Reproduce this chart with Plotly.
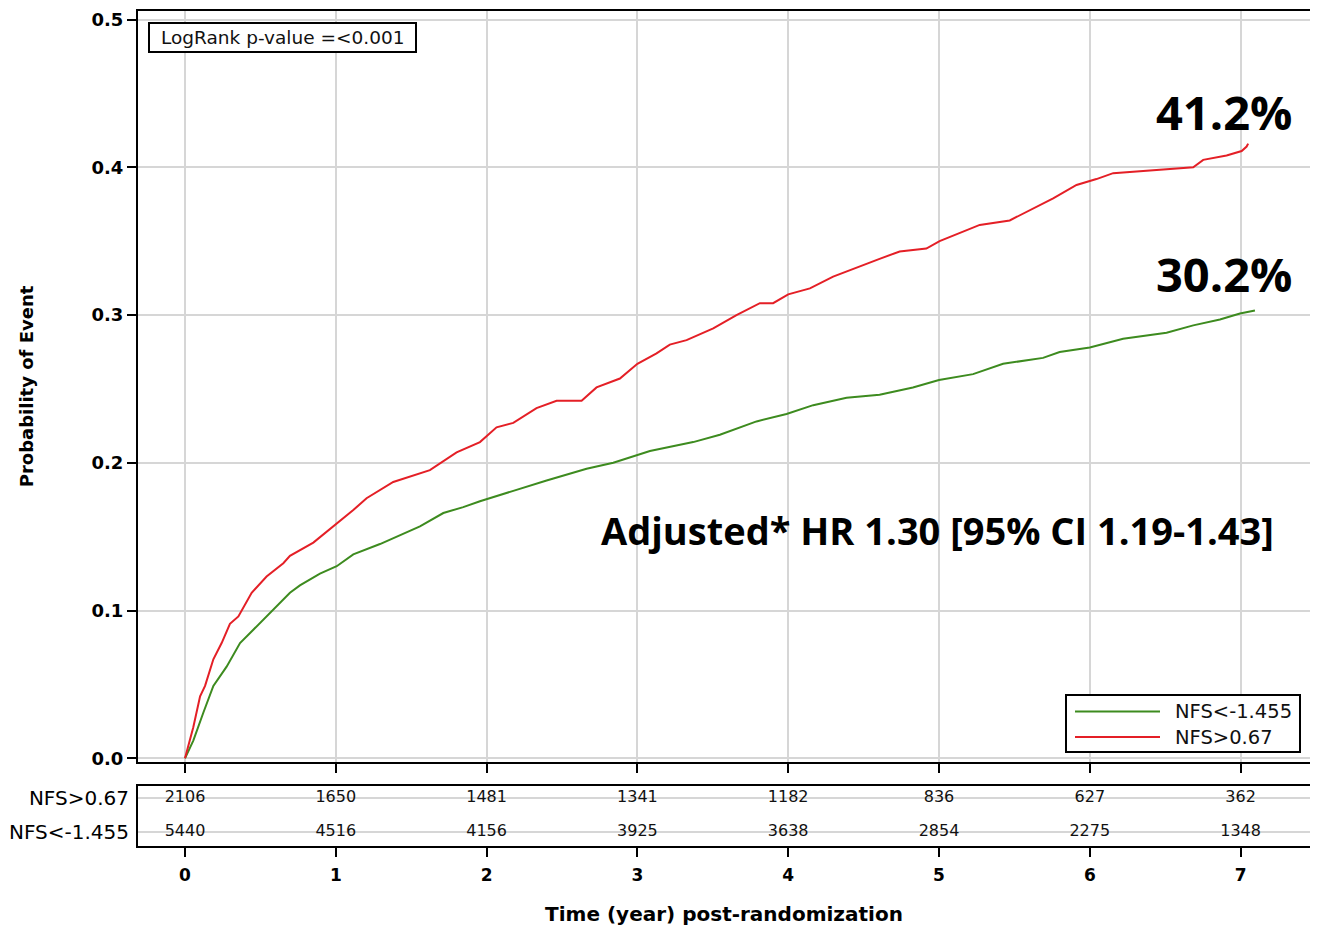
import plotly.graph_objects as go

# ---------------- data ----------------
t_red = [0, 0.055, 0.10, 0.133, 0.188, 0.243, 0.298, 0.354, 0.442, 0.541, 0.652, 0.696,
         0.851, 0.983, 1.116, 1.204, 1.381, 1.624, 1.801, 1.956, 2.066, 2.177, 2.331,
         2.464, 2.63, 2.729, 2.884, 3.0, 3.127, 3.215, 3.326, 3.503, 3.657, 3.812, 3.90,
         4.0, 4.144, 4.298, 4.497, 4.606, 4.739, 4.916, 5.004, 5.18, 5.27, 5.469, 5.60,
         5.757, 5.912, 6.044, 6.155, 6.53, 6.686, 6.752, 6.907, 7.007, 7.04, 7.05]
p_red = [0, 0.021, 0.042, 0.049, 0.067, 0.078, 0.091, 0.096, 0.112, 0.123, 0.132, 0.137,
         0.146, 0.157, 0.168, 0.176, 0.187, 0.195, 0.207, 0.214, 0.224, 0.227, 0.237,
         0.242, 0.242, 0.251, 0.257, 0.267, 0.274, 0.280, 0.283, 0.291, 0.300, 0.308, 0.308,
         0.314, 0.318, 0.326, 0.334, 0.338, 0.343, 0.345, 0.350, 0.357, 0.361, 0.364, 0.371,
         0.379, 0.388, 0.392, 0.396, 0.399, 0.400, 0.405, 0.408, 0.411, 0.414, 0.416]

t_green = [0, 0.055, 0.122, 0.188, 0.276, 0.365, 0.453, 0.586, 0.696, 0.762, 0.895, 1.006,
           1.116, 1.293, 1.403, 1.558, 1.713, 1.845, 1.956, 2.077, 2.177, 2.398, 2.663,
           2.84, 3.0, 3.083, 3.37, 3.547, 3.79, 3.989, 4.166, 4.387, 4.606, 4.827, 5.0,
           5.226, 5.425, 5.69, 5.80, 6.0, 6.221, 6.509, 6.686, 6.863, 6.996, 7.095]
p_green = [0, 0.012, 0.031, 0.049, 0.062, 0.078, 0.087, 0.101, 0.112, 0.117, 0.125, 0.130,
           0.138, 0.145, 0.150, 0.157, 0.166, 0.170, 0.174, 0.178, 0.181, 0.188, 0.196,
           0.200, 0.205, 0.208, 0.214, 0.219, 0.228, 0.233, 0.239, 0.244, 0.246, 0.251, 0.256,
           0.260, 0.267, 0.271, 0.275, 0.278, 0.284, 0.288, 0.293, 0.297, 0.301, 0.303]

risk_times = [0, 1, 2, 3, 4, 5, 6, 7]
risk_high = [2106, 1650, 1481, 1341, 1182, 836, 627, 362]      # NFS>0.67
risk_low = [5440, 4516, 4156, 3925, 3638, 2854, 2275, 1348]    # NFS<-1.455

group_names = ["NFS&lt;-1.455", "NFS&gt;0.67"]
risk_rows = ["NFS&gt;0.67", "NFS&lt;-1.455"]
y_ticks = [0.0, 0.1, 0.2, 0.3, 0.4, 0.5]
y_ticklabels = ["0.0", "0.1", "0.2", "0.3", "0.4", "0.5"]
final_labels = ["41.2%", "30.2%"]
hr_text = "Adjusted* HR 1.30 [95% CI 1.19-1.43]"
logrank_text = "LogRank p-value =&lt;0.001"

# ---------------- styling ----------------
RED = "#e41f26"
GREEN = "#3d8b1f"
GRID = "#d6d6d6"
SAS_FONT = "DejaVu Sans"
BIG_FONT = "Open Sans"

OFF = 8                      # page body margin
W, H = 1318 - OFF, 931 - OFF
ML, MR, MT, MB = 138 - OFF, 8, 11 - OFF, 931 - 846
PW, PH = W - ML - MR, H - MT - MB


def px(x):
    """screen pixel x -> paper"""
    return (x - OFF - ML) / PW


def py(y):
    """screen pixel y -> paper"""
    return (H - MB - (y - OFF)) / PH


fig = go.Figure()

fig.add_trace(go.Scatter(x=t_green, y=p_green, mode="lines", name=group_names[0],
                         line=dict(color=GREEN, width=2), xaxis="x", yaxis="y",
                         showlegend=False))
fig.add_trace(go.Scatter(x=t_red, y=p_red, mode="lines", name=group_names[1],
                         line=dict(color=RED, width=2), xaxis="x", yaxis="y",
                         showlegend=False))

# risk table
fig.add_trace(go.Scatter(x=risk_times, y=[1] * len(risk_times), mode="text",
                         text=[str(v) for v in risk_high],
                         textfont=dict(family=SAS_FONT, size=16, color="#111"),
                         xaxis="x2", yaxis="y2", showlegend=False))
fig.add_trace(go.Scatter(x=risk_times, y=[0] * len(risk_times), mode="text",
                         text=[str(v) for v in risk_low],
                         textfont=dict(family=SAS_FONT, size=16, color="#111"),
                         xaxis="x2", yaxis="y2", showlegend=False))

xr = [-47 / 150.8, 1125 / 150.8]
main_bottom = 762
risk_top = 785.7

axis_common = dict(showline=True, linecolor="black", linewidth=2, mirror=True,
                   ticks="outside", ticklen=9, tickwidth=2, tickcolor="black",
                   zeroline=False, automargin=False)

fig.update_layout(
    width=W, height=H,
    margin=dict(l=ML, r=MR, t=MT, b=MB),
    paper_bgcolor="white", plot_bgcolor="white",
    font=dict(family=SAS_FONT, color="black"),
    xaxis=dict(domain=[0, 1], range=xr, tickvals=risk_times, showticklabels=False,
               showgrid=True, gridcolor=GRID, gridwidth=2, anchor="y", **axis_common),
    yaxis=dict(domain=[py(main_bottom), 1], range=[-3.7 / 1477.6, 0.5 + 8.5 / 1477.6],
               tickvals=y_ticks, ticktext=y_ticklabels,
               tickfont=dict(family=SAS_FONT, size=18, weight="bold"),
               showgrid=True, gridcolor=GRID, gridwidth=2, anchor="x",
               title=dict(text="Probability of Event",
                          font=dict(family=SAS_FONT, size=18, weight="bold"),
                          standoff=53),
               **axis_common),
    xaxis2=dict(domain=[0, 1], range=xr, tickvals=risk_times,
                ticktext=[str(v) for v in risk_times],
                tickfont=dict(family=SAS_FONT, size=17, weight="bold"),
                showgrid=False, anchor="y2", ticklabelstandoff=4,
                title=dict(text="Time (year) post-randomization",
                           font=dict(family=SAS_FONT, size=20, weight="bold"),
                           standoff=23),
                **axis_common),
    yaxis2=dict(domain=[0, py(risk_top)], range=[-0.428, 1.377], anchor="x2",
                tickvals=[1, 0], ticktext=risk_rows,
                tickfont=dict(family=SAS_FONT, size=20),
                showgrid=True, gridcolor=GRID, gridwidth=2,
                showline=True, linecolor="black", linewidth=2, mirror=True,
                ticks="", zeroline=False, ticklabelstandoff=3, automargin=False),
)

# LogRank box
fig.add_shape(type="rect", xref="paper", yref="paper",
              x0=px(149), x1=px(416), y0=py(52), y1=py(23),
              line=dict(color="black", width=2), fillcolor="white")
fig.add_annotation(xref="paper", yref="paper", x=px(159), y=py(37.5),
                   xanchor="left", yanchor="middle", showarrow=False,
                   text=logrank_text, font=dict(family=SAS_FONT, size=18.5, color="#111"))

# Legend box (manual, to match long sample lines)
fig.add_shape(type="rect", xref="paper", yref="paper",
              x0=px(1066), x1=px(1300), y0=py(752), y1=py(695),
              line=dict(color="black", width=2), fillcolor="white")
for yy, col, name in [(711.5, GREEN, group_names[0]), (737, RED, group_names[1])]:
    fig.add_shape(type="line", xref="paper", yref="paper",
                  x0=px(1075), x1=px(1160), y0=py(yy), y1=py(yy),
                  line=dict(color=col, width=2))
    fig.add_annotation(xref="paper", yref="paper", x=px(1173), y=py(yy),
                       xanchor="left", yanchor="middle", showarrow=False,
                       text=name, font=dict(family=SAS_FONT, size=19.5, color="#111"))

# Big annotations
fig.add_annotation(xref="paper", yref="paper", x=px(1224), y=py(112),
                   xanchor="center", yanchor="middle", showarrow=False,
                   text=final_labels[0],
                   font=dict(family=BIG_FONT, size=47, weight="bold", color="black"))
fig.add_annotation(xref="paper", yref="paper", x=px(1224), y=py(274),
                   xanchor="center", yanchor="middle", showarrow=False,
                   text=final_labels[1],
                   font=dict(family=BIG_FONT, size=47, weight="bold", color="black"))
fig.add_annotation(xref="paper", yref="paper", x=px(937.5), y=py(530),
                   xanchor="center", yanchor="middle", showarrow=False,
                   text=hr_text,
                   font=dict(family=BIG_FONT, size=38, weight="bold", color="black"))

fig.write_html("out.html")
